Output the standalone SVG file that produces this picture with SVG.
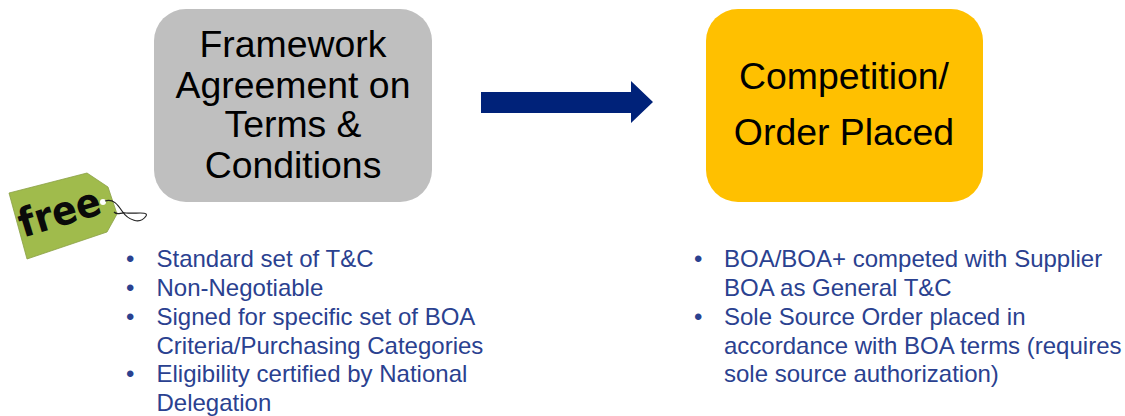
<svg xmlns="http://www.w3.org/2000/svg" width="1125" height="416" viewBox="0 0 1125 416">
<style>
text{font-family:"Liberation Sans",Arial,sans-serif}
.h{font-size:37.4px;fill:#000;text-anchor:middle}
.b{font-size:24px;fill:#2a4190}
</style>
<rect width="1125" height="416" fill="#fff"/>
<g id="node-framework">
<rect x="154" y="9" width="278" height="193" rx="32" fill="#bfbfbf"/>
<text class="h" x="293" y="57">Framework</text>
<text class="h" x="293" y="97.500">Agreement on</text>
<text class="h" x="293" y="137">Terms &amp;</text>
<text class="h" x="293" y="177.500">Conditions</text>
</g>
<g id="connectors">
<polygon points="481,92 631,92 631,81 653,102 631,123 631,113 481,113" fill="#002279"/>
</g>
<g id="node-competition">
<rect x="706" y="9" width="277" height="193" rx="32" fill="#ffc000"/>
<text class="h" x="844" y="89">Competition/</text>
<text class="h" x="844" y="145">Order Placed</text>
</g>
<g id="free-tag">
<polygon points="9,193 87,173 108,187 117,214 107,232 27,259" fill="#a0bb4c" stroke="#8a9f45" stroke-width="0.8"/>
<circle cx="103" cy="202" r="3" fill="#fff"/>
<path d="M105,201 C113,198 118,205 122,211 C128,220 140,225 146,216 C149,211 135,214 126,213 C120,212 118,216 114,212" fill="none" stroke="#222" stroke-width="1.2"/>
<text x="60" y="226" font-size="40" font-weight="bold" fill="#0a0a0a" text-anchor="middle" transform="rotate(-17 60 214)" style="font-family:'DejaVu Sans',sans-serif" textLength="84" lengthAdjust="spacingAndGlyphs">free</text>
</g>
<g id="list-left">
<text class="b" x="126" y="267">•</text><text class="b" x="156.500" y="267">Standard set of T&amp;C</text>
<text class="b" x="126" y="296">•</text><text class="b" x="156.500" y="296">Non-Negotiable</text>
<text class="b" x="126" y="325">•</text><text class="b" x="156.500" y="325">Signed for specific set of BOA</text>
<text class="b" x="156.500" y="353.500">Criteria/Purchasing Categories</text>
<text class="b" x="126" y="382">•</text><text class="b" x="156.500" y="382">Eligibility certified by National</text>
<text class="b" x="156.500" y="411">Delegation</text>
</g>
<g id="list-right">
<text class="b" x="694" y="267">•</text><text class="b" x="724" y="267">BOA/BOA+ competed with Supplier</text>
<text class="b" x="724" y="296">BOA as General T&amp;C</text>
<text class="b" x="694" y="325">•</text><text class="b" x="724" y="325">Sole Source Order placed in</text>
<text class="b" x="724" y="353.500">accordance with BOA terms (requires</text>
<text class="b" x="724" y="382">sole source authorization)</text>
</g>
</svg>
